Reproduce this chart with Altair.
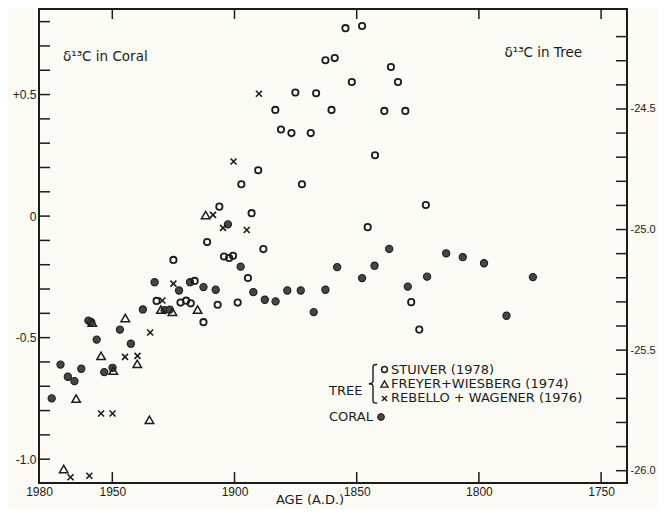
import altair as alt
import pandas as pd

# ---------------- data ----------------
coral_year = [1974.8, 1971.2, 1968.2, 1965.5, 1962.7, 1959.8, 1958.6, 1956.4, 1953.3, 1949.9,
              1946.9, 1942.4, 1937.5, 1932.7, 1928.6, 1926.5, 1922.7, 1918.2, 1912.7, 1907.7,
              1902.7, 1897.5, 1892.3, 1887.6, 1883.2, 1878.4, 1872.9, 1867.6, 1862.8, 1858.0,
              1847.8, 1842.7, 1836.7, 1829.1, 1821.2, 1813.4, 1806.6, 1797.9, 1788.7, 1777.9]
coral_d13c = [-0.750, -0.611, -0.661, -0.679, -0.628, -0.430, -0.436, -0.508, -0.642, -0.624,
              -0.467, -0.525, -0.384, -0.272, -0.387, -0.385, -0.306, -0.272, -0.292, -0.303,
              -0.034, -0.208, -0.313, -0.344, -0.351, -0.306, -0.306, -0.395, -0.303, -0.210,
              -0.255, -0.204, -0.135, -0.290, -0.249, -0.153, -0.169, -0.194, -0.410, -0.251]

stuiver_year = [1931.9, 1925.0, 1922.1, 1919.8, 1917.9, 1916.3, 1912.7, 1911.2, 1906.9, 1906.2,
                1904.3, 1902.2, 1900.6, 1898.7, 1897.2, 1894.5, 1893.0, 1890.3, 1888.2, 1883.3,
                1881.0, 1876.7, 1875.1, 1872.4, 1868.8, 1866.6, 1862.8, 1860.3, 1859.0, 1854.6,
                1852.0, 1847.8, 1845.5, 1842.5, 1838.7, 1836.0, 1833.1, 1830.1, 1827.7, 1824.4,
                1821.7]
stuiver_d13c = [-25.296, -25.126, -25.303, -25.295, -25.306, -25.213, -25.384, -25.052, -25.312, -24.905,
                -25.112, -25.118, -25.109, -25.303, -24.812, -25.201, -24.932, -24.754, -25.081, -24.504,
                -24.585, -24.600, -24.432, -24.812, -24.600, -24.435, -24.298, -24.504, -24.289, -24.165,
                -24.388, -24.156, -24.990, -24.692, -24.508, -24.326, -24.388, -24.508, -25.301, -25.415,
                -24.898]

freyer_year = [1969.9, 1964.8, 1958.2, 1954.6, 1949.6, 1944.7, 1939.8, 1934.8, 1930.1, 1925.4,
               1915.1, 1911.8]
freyer_d13c = [-25.993, -25.701, -25.386, -25.524, -25.585, -25.367, -25.557, -25.789, -25.332, -25.341,
               -25.332, -24.940]

rebello_year = [1967.1, 1959.4, 1954.6, 1949.9, 1944.8, 1939.7, 1934.5, 1929.5, 1925.0, 1908.8,
                1904.7, 1900.4, 1895.0, 1890.0]
rebello_d13c = [-26.027, -26.021, -25.763, -25.763, -25.528, -25.524, -25.427, -25.294, -25.224, -24.939,
                -24.993, -24.718, -25.002, -24.437]

# axis ticks and labels
year_ticks = [1950, 1900, 1850, 1800, 1750]
year_labels = [1980, 1950, 1900, 1850, 1800, 1750]
coral_ticks = [-1.0, -0.9, -0.8, -0.7, -0.6, -0.5, -0.4, -0.3, -0.2, -0.1, 0.0,
               0.1, 0.2, 0.3, 0.4, 0.5, 0.6, 0.7, 0.8]
coral_labels = [-1.0, -0.5, 0.0, 0.5]
tree_ticks = [-26.0, -25.9, -25.8, -25.7, -25.6, -25.5, -25.4, -25.3, -25.2, -25.1, -25.0,
              -24.9, -24.8, -24.7, -24.6, -24.5, -24.4, -24.3, -24.2]
tree_labels = [-26.0, -25.5, -25.0, -24.5]

# ---------------- styling ----------------
W, H = 588, 474
INK = "#1c1c1c"
FILL = "#464646"
BG = "#fbfaf4"
TXT_FONT = "DejaVu Sans"
AX_FONT = "Liberation Sans"

X_SHAPE = "M-1,-1L1,1M1,-1L-1,1"
BRACE = ("M0.22,-1 C0.02,-1 0,-0.96 0,-0.84 L0,-0.14 C0,-0.04 -0.08,0 -0.22,0 "
         "C-0.08,0 0,0.04 0,0.14 L0,0.84 C0,0.96 0.02,1 0.22,1")

x_enc = alt.X(
    "year:Q",
    scale=alt.Scale(domain=[1980, 1739.4], nice=False, zero=False),
    axis=alt.Axis(values=year_labels, format="d", ticks=False, tickSize=0, domain=False,
                  grid=False, labelFlush=False, labelPadding=3, labelFont=AX_FONT,
                  labelFontSize=12, labelColor=INK, title=None),
)

coral_axis = alt.Axis(orient="left", values=coral_labels, ticks=False, tickSize=0, domain=False,
                      grid=False, labelPadding=3, labelFont=AX_FONT, labelFontSize=12,
                      labelColor=INK, title=None,
                      labelExpr="datum.value > 0 ? '+' + format(datum.value, '.1f') : "
                                "(datum.value == 0 ? '0' : replace(format(datum.value, '.1f'), '\u2212', '-'))")
y_coral = alt.Y("v:Q", scale=alt.Scale(domain=[-1.098, 0.852], nice=False, zero=False),
                axis=coral_axis)

tree_axis = alt.Axis(orient="right", values=tree_labels, ticks=False, tickSize=0,
                     domain=False, grid=False, labelPadding=3, labelFont=AX_FONT,
                     labelFontSize=11, labelColor=INK, title=None,
                     labelExpr="replace(format(datum.value, '.1f'), '\u2212', '-')")
y_tree = alt.Y("v:Q", scale=alt.Scale(domain=[-26.051, -24.0855], nice=False, zero=False),
               axis=tree_axis)

coral_df = pd.DataFrame({"year": coral_year, "v": coral_d13c})
stuiver_df = pd.DataFrame({"year": stuiver_year, "v": stuiver_d13c})
freyer_df = pd.DataFrame({"year": freyer_year, "v": freyer_d13c})
rebello_df = pd.DataFrame({"year": rebello_year, "v": rebello_d13c})

one = pd.DataFrame({"k": [0]})

# ---------------- coral group (left scale) ----------------
coral_pts = alt.Chart(coral_df).mark_point(
    shape="circle", filled=True, fill=FILL, stroke=INK, strokeWidth=1.1, size=52, opacity=1
).encode(x=x_enc, y=y_coral)

left_ticks = alt.Chart(pd.DataFrame({"v": coral_ticks})).mark_rule(
    color=INK, strokeWidth=1.5
).encode(y=y_coral, x=alt.value(0), x2=alt.value(11))

top_ticks = alt.Chart(pd.DataFrame({"year": year_ticks})).mark_rule(
    color=INK, strokeWidth=1.5
).encode(x=x_enc, y=alt.value(0), y2=alt.value(10))

bottom_ticks = alt.Chart(pd.DataFrame({"year": year_ticks})).mark_rule(
    color=INK, strokeWidth=1.5
).encode(x=x_enc, y=alt.value(H - 11), y2=alt.value(H))


def label(text, x, y, size=13, align="left"):
    return alt.Chart(one).mark_text(
        text=text, font=TXT_FONT, fontSize=size, color=INK, align=align, baseline="middle"
    ).encode(x=alt.value(x), y=alt.value(y))


def symbol(shape, x, y, size, filled=False, sw=1.5):
    kw = dict(shape=shape, size=size, opacity=1, strokeWidth=sw, filled=filled)
    if filled:
        kw.update(fill=FILL, stroke=INK)
    else:
        kw.update(color=INK)
    return alt.Chart(one).mark_point(**kw).encode(x=alt.value(x), y=alt.value(y))


texts = [
    label("δ¹³C in Coral", 24, 48, size=13.5),
    label("δ¹³C in Tree", 543, 44, size=13.5, align="right"),
    label("AGE (A.D.)", 271, H + 17, size=13, align="center"),
    label("TREE", 290, 382),
    label("STUIVER (1978)", 352, 360.5),
    label("FREYER+WIESBERG (1974)", 352, 374.7),
    label("REBELLO + WAGENER (1976)", 352, 389.1),
    label("CORAL", 290, 408),
    symbol(BRACE, 334, 374.8, 1500, sw=1.4),
    symbol("circle", 345.5, 360.5, 34, sw=1.5),
    symbol("triangle-up", 345.5, 375, 52, sw=1.3),
    symbol(X_SHAPE, 345.5, 389.5, 26, sw=1.4),
    symbol("circle", 342, 408, 46, filled=True, sw=1.0),
]

coral_group = alt.layer(left_ticks, top_ticks, bottom_ticks, coral_pts, *texts)

# ---------------- tree group (right scale) ----------------
stuiver_pts = alt.Chart(stuiver_df).mark_point(
    shape="circle", filled=False, color=INK, strokeWidth=1.8, size=40, opacity=1
).encode(x=x_enc, y=y_tree)

freyer_pts = alt.Chart(freyer_df).mark_point(
    shape="triangle-up", filled=False, color=INK, strokeWidth=1.5, size=72, opacity=1
).encode(x=x_enc, y=y_tree)

rebello_pts = alt.Chart(rebello_df).mark_point(
    shape=X_SHAPE, filled=False, color=INK, strokeWidth=1.6, size=36, opacity=1
).encode(x=x_enc, y=y_tree)

right_ticks = alt.Chart(pd.DataFrame({"v": tree_ticks})).mark_rule(
    color=INK, strokeWidth=1.5
).encode(y=y_tree, x=alt.value(W - 11), x2=alt.value(W))

tree_group = alt.layer(right_ticks, stuiver_pts, freyer_pts, rebello_pts)

chart = alt.layer(coral_group, tree_group).resolve_scale(y="independent").properties(
    width=W, height=H,
    autosize=alt.AutoSizeParams(type="none"),
    padding={"left": 31, "top": 1, "right": 31, "bottom": 25},
    background=BG,
).configure_view(stroke=INK, strokeWidth=2)

chart.save("out.html", embed_options={"renderer": "svg", "actions": False})
